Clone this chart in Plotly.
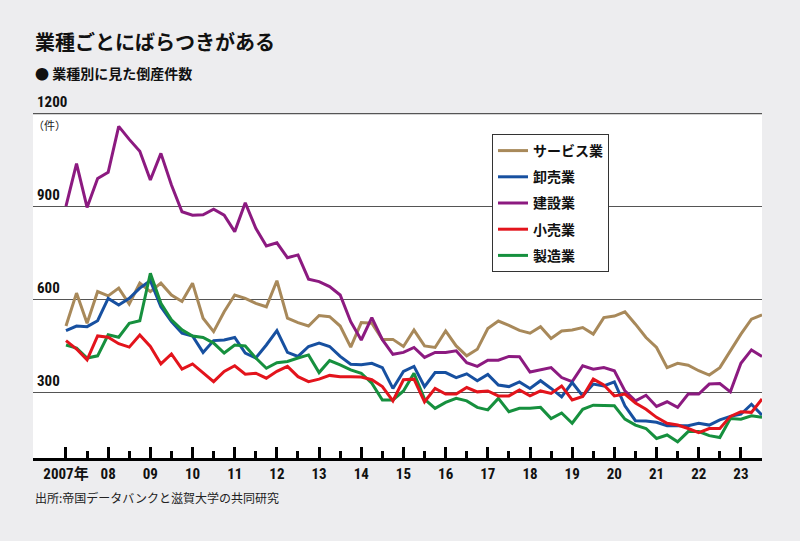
import plotly.graph_objects as go

# Quarterly data, 2007Q1 .. 2023Q3
start_year = 2007
n_q = 67
quarters = [start_year + k / 4 for k in range(n_q)]

service = [514, 620, 523, 625, 611, 636, 585, 652, 625, 652,
           614, 593, 652, 539, 496, 560, 614, 603, 587, 576,
           660, 539, 525, 514, 548, 544, 514, 446, 525, 523,
           471, 471, 448, 501, 450, 445, 498, 450, 418, 439,
           506, 530, 516, 500, 491, 512, 474, 498, 501, 509,
           488, 541, 546, 560, 520, 477, 445, 380, 394, 388,
           370, 356, 380, 434, 488, 536, 550]

wholesale = [499, 514, 512, 531, 603, 582, 603, 636, 660, 576,
             528, 491, 482, 429, 467, 469, 477, 427, 411, 453,
             499, 429, 416, 448, 459, 448, 416, 391, 389, 394,
             380, 313, 368, 384, 319, 364, 364, 348, 360, 338,
             358, 324, 319, 334, 313, 338, 313, 286, 332, 289,
             327, 321, 334, 257, 209, 208, 204, 193, 193, 193,
             201, 195, 212, 223, 230, 262, 227]

construction = [900, 1037, 896, 989, 1009, 1157, 1115, 1077, 984, 1070,
                968, 882, 871, 872, 890, 871, 818, 911, 829, 772,
                782, 734, 743, 665, 657, 641, 614, 528, 469, 541,
                470, 423, 429, 445, 413, 429, 429, 434, 396, 384,
                404, 404, 416, 415, 366, 373, 380, 348, 335, 386,
                375, 380, 370, 305, 273, 291, 255, 270, 252, 295,
                295, 327, 329, 302, 394, 437, 416]

retail = [467, 440, 405, 482, 478, 457, 446, 485, 448, 392,
          424, 375, 392, 365, 335, 368, 386, 359, 362, 346,
          368, 384, 351, 335, 343, 355, 351, 351, 350, 341,
          319, 273, 341, 343, 270, 313, 295, 295, 316, 302,
          305, 289, 289, 308, 289, 305, 297, 321, 276, 287,
          343, 324, 289, 295, 266, 246, 220, 201, 195, 184,
          171, 184, 184, 223, 238, 236, 279]

manufacturing = [453, 443, 411, 418, 486, 478, 523, 531, 684, 587,
                 534, 502, 482, 477, 459, 427, 453, 450, 411, 378,
                 396, 400, 411, 421, 364, 403, 389, 373, 362, 330,
                 276, 276, 305, 362, 279, 249, 268, 281, 273, 252,
                 244, 281, 238, 249, 249, 252, 216, 234, 201, 246,
                 259, 257, 257, 214, 195, 184, 152, 163, 141, 174,
                 174, 161, 155, 216, 214, 225, 220]

year_ticks = list(range(2007, 2024))
year_labels = ["2007年"] + [f"{y % 100:02d}" for y in range(2008, 2024)]
half_ticks = [y + 0.5 for y in range(2007, 2024)]
y_grid = [300, 600, 900]
y_labels = [300, 600, 900, 1200]

JP = "Noto Sans CJK JP"
NUM = "Liberation Sans Narrow, Arial Narrow, Roboto Condensed, DejaVu Sans Condensed, Noto Sans CJK JP, sans-serif"

series = [
    ("サービス業", service, "#a8895a", 1),
    ("建設業", construction, "#8c1a80", 3),
    ("卸売業", wholesale, "#1750a0", 2),
    ("製造業", manufacturing, "#16903e", 5),
    ("小売業", retail, "#e3141c", 4),
]

fig = go.Figure()
for name, vals, color, rank in series:
    fig.add_trace(go.Scatter(
        x=quarters, y=vals, mode="lines", name=name,
        line=dict(color=color, width=3),
        legendgroup=name, legendrank=rank,
    ))

fig.update_layout(
    width=800, height=541,
    margin=dict(l=33, r=38, t=113, b=83),
    paper_bgcolor="#ededef",
    plot_bgcolor="white",
    showlegend=True,
    legend=dict(
        x=(492 - 33) / 729, y=(458 - 134) / 345,
        xanchor="left", yanchor="top",
        bgcolor="white", bordercolor="#333", borderwidth=1,
        font=dict(family=JP, size=14, color="#111", weight="bold"),
        tracegroupgap=5,
    ),
    xaxis=dict(
        range=[2006.218, 2023.5],
        tickmode="array", tickvals=year_ticks, ticktext=year_labels,
        ticks="inside", ticklen=11, tickwidth=2.5, tickcolor="black",
        minor=dict(tickmode="array", tickvals=half_ticks, ticks="inside",
                   ticklen=7, tickwidth=2.5, tickcolor="black"),
        showline=True, linecolor="black", linewidth=3,
        showgrid=False, zeroline=False,
        tickfont=dict(family=NUM, size=15, color="#111", weight="bold"),
        ticklabelstandoff=0,
    ),
    yaxis=dict(
        range=[89, 1200],
        tickmode="array", tickvals=y_grid,
        showticklabels=False, ticks="",
        showgrid=True, gridcolor="#555", gridwidth=1,
        zeroline=False, showline=False,
    ),
    shapes=[dict(type="line", xref="paper", yref="y", x0=0, x1=1,
                 y0=1200, y1=1200, line=dict(color="#555", width=2.5))],
)

ann = []
for v in y_labels:
    ann.append(dict(x=0, xref="paper", y=v, yref="y", text=str(v),
                    showarrow=False, xanchor="left", yanchor="bottom",
                    xshift=2, yshift=0,
                    font=dict(family=NUM, size=15, color="#111", weight="bold")))
ann.append(dict(x=0, xref="paper", y=(458 - 125) / 345, yref="paper", text="（件）",
                showarrow=False, xanchor="left", yanchor="middle", xshift=-2,
                font=dict(family=JP, size=11, color="#222")))
ann.append(dict(x=0, xref="paper", y=(458 - 42) / 345, yref="paper",
                text="業種ごとにばらつきがある", showarrow=False,
                xanchor="left", yanchor="middle", xshift=0,
                font=dict(family=JP, size=20, color="#111", weight="bold")))
ann.append(dict(x=0, xref="paper", y=(458 - 73) / 345, yref="paper",
                text="● 業種別に見た倒産件数", showarrow=False,
                xanchor="left", yanchor="middle", xshift=0,
                font=dict(family=JP, size=14, color="#111", weight="bold")))
ann.append(dict(x=0, xref="paper", y=(458 - 497) / 345, yref="paper",
                text="出所:帝国データバンクと滋賀大学の共同研究", showarrow=False,
                xanchor="left", yanchor="middle", xshift=0,
                font=dict(family=JP, size=12, color="#222")))
fig.update_layout(annotations=ann)

fig.write_html(
    "out.html",
    config={"displayModeBar": False},
    post_script="document.body.style.margin='0';document.body.style.background='#ededef';",
)
